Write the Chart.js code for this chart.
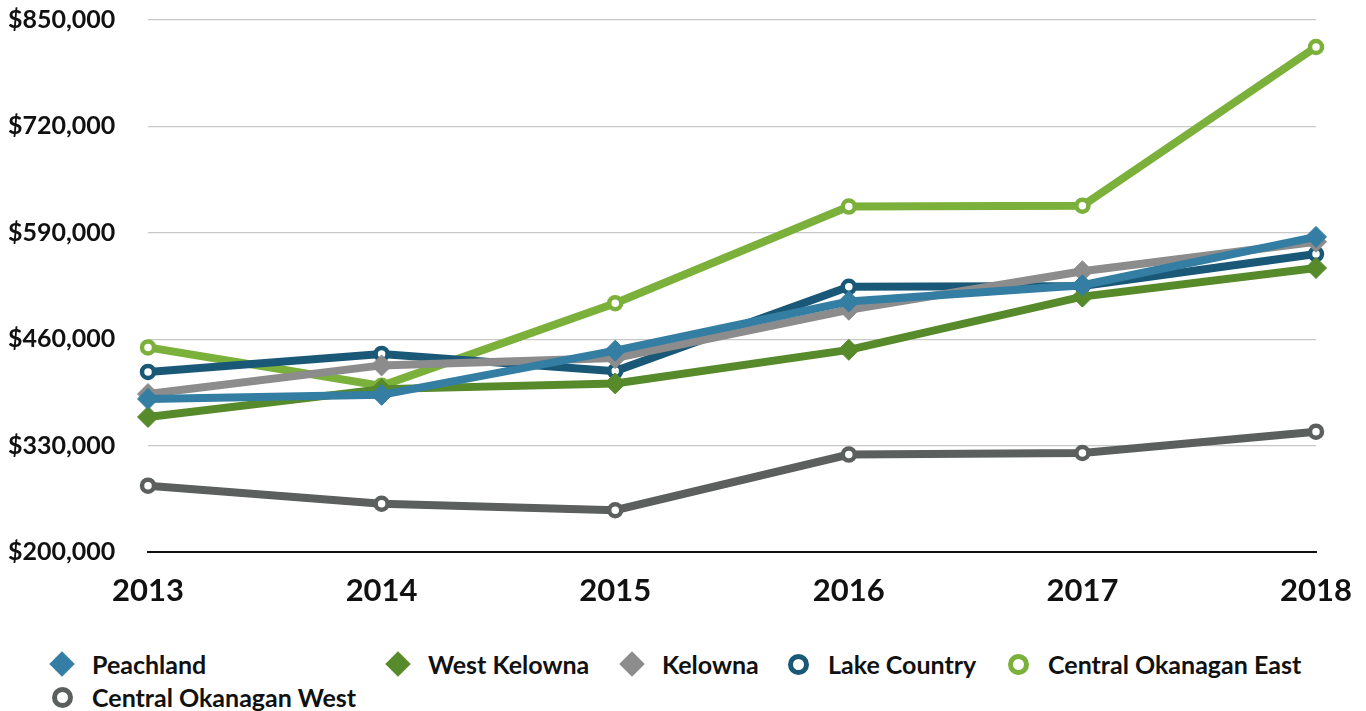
<!DOCTYPE html>
<html>
<head>
<meta charset="utf-8">
<script src="https://cdn.jsdelivr.net/npm/chart.js@4/dist/chart.umd.min.js"></script>
<style>
html,body{margin:0;padding:0;background:#fff;}
#wrap{position:relative;width:1366px;height:711px;overflow:hidden;}
#c{position:absolute;left:0;top:0;}
.item{position:absolute;font:700 25px Lato, sans-serif;color:#111;white-space:nowrap;line-height:28px;height:28px;}
.mk{position:absolute;box-sizing:border-box;}
</style>
</head>
<body>
<div id="wrap">
<canvas id="c" width="1366" height="620"></canvas>
<div id="legend"></div>
</div>
<script>
// ---- data ----
const years = ['2013', '2014', '2015', '2016', '2017', '2018'];
const peachland   = [387000, 392000, 446000, 506000, 526000, 585000];
const westKelowna = [365000, 399000, 406000, 447000, 512000, 547000];
const kelowna     = [393000, 428000, 437000, 496000, 543000, 579000];
const lakeCountry = [420000, 442000, 421000, 524000, 525000, 564000];
const coEast      = [450000, 403000, 504000, 622000, 623000, 817000];
const coWest      = [281000, 259000, 251000, 319000, 321000, 347000];
const yMin = 200000, yMax = 850000, yStep = 130000;

const seriesNames = ['Peachland', 'West Kelowna', 'Kelowna', 'Lake Country', 'Central Okanagan East', 'Central Okanagan West'];
const seriesData = [peachland, westKelowna, kelowna, lakeCountry, coEast, coWest];
const seriesColors = ['#357ea3', '#578a2a', '#8c8c8c', '#1a5878', '#7bb03b', '#5b5f5e'];
const seriesMarker = ['diamond', 'diamond', 'diamond', 'circle', 'circle', 'circle'];

const datasets = seriesNames.map((name, i) => {
  const col = seriesColors[i];
  const diamond = seriesMarker[i] === 'diamond';
  return {
    label: name,
    data: seriesData[i],
    borderColor: col,
    backgroundColor: col,
    borderWidth: 8,
    tension: 0,
    pointStyle: diamond ? 'rectRot' : 'circle',
    pointRadius: diamond ? 10.5 : 6,
    pointBackgroundColor: diamond ? col : '#ffffff',
    pointBorderColor: col,
    pointBorderWidth: diamond ? 1 : 4.5,
    pointHoverRadius: diamond ? 10.5 : 6
  };
});

new Chart(document.getElementById('c'), {
  type: 'line',
  data: { labels: years, datasets: datasets },
  options: {
    responsive: false,
    devicePixelRatio: 1,
    animation: false,
    layout: { padding: { left: 8, right: 50, top: 20, bottom: 0 } },
    plugins: { legend: { display: false }, tooltip: { enabled: false } },
    scales: {
      x: {
        offset: false,
        grid: { display: false, drawTicks: false },
        border: { display: true, color: '#111111', width: 2 },
        ticks: { color: '#111', padding: 20, font: { family: 'Lato', size: 31, weight: 'bold' }, maxRotation: 0 },
        afterFit: (s) => { s.height = 68; s.paddingLeft = 0; s.paddingRight = 0; }
      },
      y: {
        min: yMin, max: yMax,
        grid: { color: '#c8c8c8', lineWidth: 1.3, drawTicks: false },
        border: { display: false },
        ticks: {
          stepSize: yStep,
          crossAlign: 'far',
          color: '#111',
          font: { family: 'Lato', size: 25, weight: 'bold' },
          callback: (v) => '$' + Number(v).toLocaleString('en-US')
        },
        afterFit: (s) => { s.width = 140; }
      }
    }
  }
});

// ---- HTML legend (layout) ----
const legendPos = [[62, 664], [398, 664], [632, 664], [798, 664], [1018, 664], [62, 697]];
const legend = document.getElementById('legend');
seriesNames.forEach((name, i) => {
  const [mx, my] = legendPos[i];
  const mk = document.createElement('div');
  mk.className = 'mk';
  if (seriesMarker[i] === 'diamond') {
    const s = 18;
    mk.style.cssText = `left:${mx - s / 2}px;top:${my - s / 2}px;width:${s}px;height:${s}px;background:${seriesColors[i]};transform:rotate(45deg);`;
  } else {
    const s = 21;
    mk.style.cssText = `left:${mx - s / 2}px;top:${my - s / 2}px;width:${s}px;height:${s}px;border:5.5px solid ${seriesColors[i]};border-radius:50%;background:#fff;`;
  }
  mk.style.position = 'absolute';
  legend.appendChild(mk);
  const t = document.createElement('div');
  t.className = 'item';
  t.textContent = name;
  t.style.left = (mx + 30) + 'px';
  t.style.top = (my - 14) + 'px';
  legend.appendChild(t);
});
</script>
</body>
</html>
